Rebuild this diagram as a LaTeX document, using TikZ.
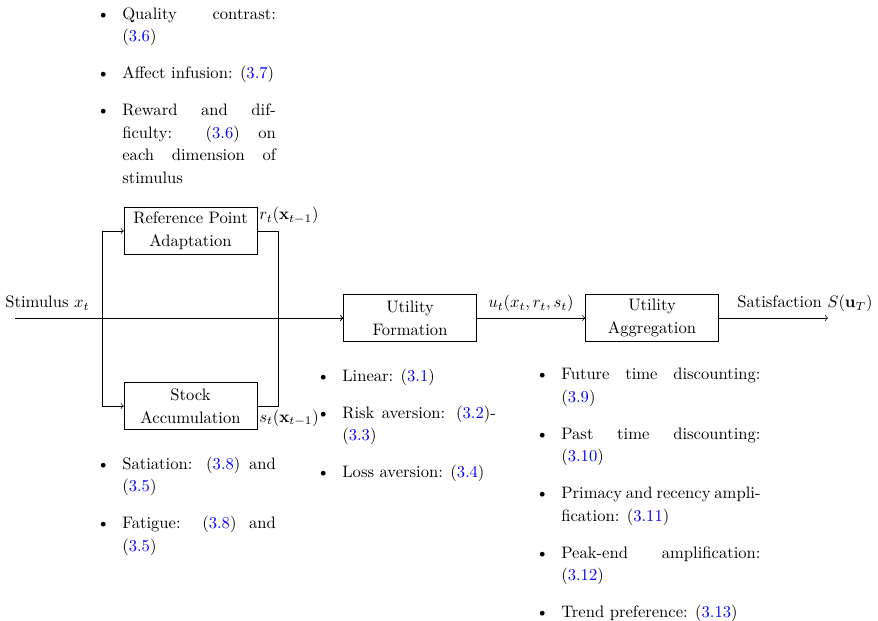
\documentclass[tikz,border=0pt]{standalone}
\usepackage{xcolor}
\setlength{\leftmargini}{12.5pt}
\setlength{\labelsep}{7.5pt}
\newcommand{\eqr}[1]{(\textcolor{blue}{#1})}
\newcommand{\blist}[2]{\begin{minipage}[t]{#1}\fontsize{10pt}{13.5pt}\selectfont\begin{itemize}\setlength{\itemsep}{8.8pt}\setlength{\parsep}{0pt}\setlength{\parskip}{0pt}#2\end{itemize}\end{minipage}}
\begin{document}
\begin{tikzpicture}[x=0.6024pt,y=-0.6024pt,
  blk/.style={draw, align=center, minimum width=80pt, minimum height=28.5pt, inner sep=2pt, font=\fontsize{10pt}{13.9pt}\selectfont},
  lbl/.style={inner sep=0pt, anchor=base west},
  lst/.style={inner sep=0pt, anchor=base west}]
\useasboundingbox (0,0) rectangle (878,621);
% blocks
\node[blk] (ref) at (190.5,231) {Reference Point\\Adaptation};
\node[blk] (stock) at (190.5,406) {Stock\\Accumulation};
\node[blk] (uf) at (410,318) {Utility\\Formation};
\node[blk] (ua) at (652,318) {Utility\\Aggregation};
% coordinates
\coordinate (start) at (15,318);
\coordinate (split) at (102,318);
\coordinate (join) at (278,318);
\coordinate (out) at (828,318);
% connectors
\draw[->] (start) -- (uf.west);
\draw[->] (split) |- (ref.west);
\draw[->] (split) |- (stock.west);
\draw (ref.east) -| (join);
\draw (stock.east) -| (join);
\draw[->] (join) -- (uf.west);
\draw[->] (uf.east) -- node[above] (ulbl) {$u_t(x_t,r_t,s_t)$} (ua.west);
\draw[->] (ua.east) -- (out);
% labels
\node[lbl] (stim) at (5,308) {Stimulus $x_t$};
\node[lbl] (rlbl) at (259,220) {$r_t(\mathbf{x}_{t-1})$};
\node[lbl] (slbl) at (259,422) {$s_t(\mathbf{x}_{t-1})$};
\node[lbl] (sat) at (737,308) {Satisfaction $S(\mathbf{u}_T)$};
% lists
\node[lst] (l1) at (101.25,19.5) {\blist{105pt}{%
  \item Quality contrast: \eqr{3.6}
  \item Affect infusion: \eqr{3.7}
  \item Reward and difficulty: \eqr{3.6} on each dimension of stimulus}};
\node[lst] (l2) at (101.25,469.5) {\blist{105pt}{%
  \item Satiation: \eqr{3.8} and \eqr{3.5}
  \item Fatigue: \eqr{3.8} and \eqr{3.5}}};
\node[lst] (l3) at (321.25,381) {\blist{105pt}{%
  \item Linear: \eqr{3.1}
  \item Risk aversion: \eqr{3.2}-\eqr{3.3}
  \item Loss aversion: \eqr{3.4}}};
\node[lst] (l4) at (540.25,380) {\blist{132.5pt}{%
  \item Future time discounting: \eqr{3.9}
  \item Past time discounting: \eqr{3.10}
  \item Primacy and recency amplification: \eqr{3.11}
  \item Peak-end amplification: \eqr{3.12}
  \item Trend preference: \eqr{3.13}}};
\end{tikzpicture}
\end{document}
